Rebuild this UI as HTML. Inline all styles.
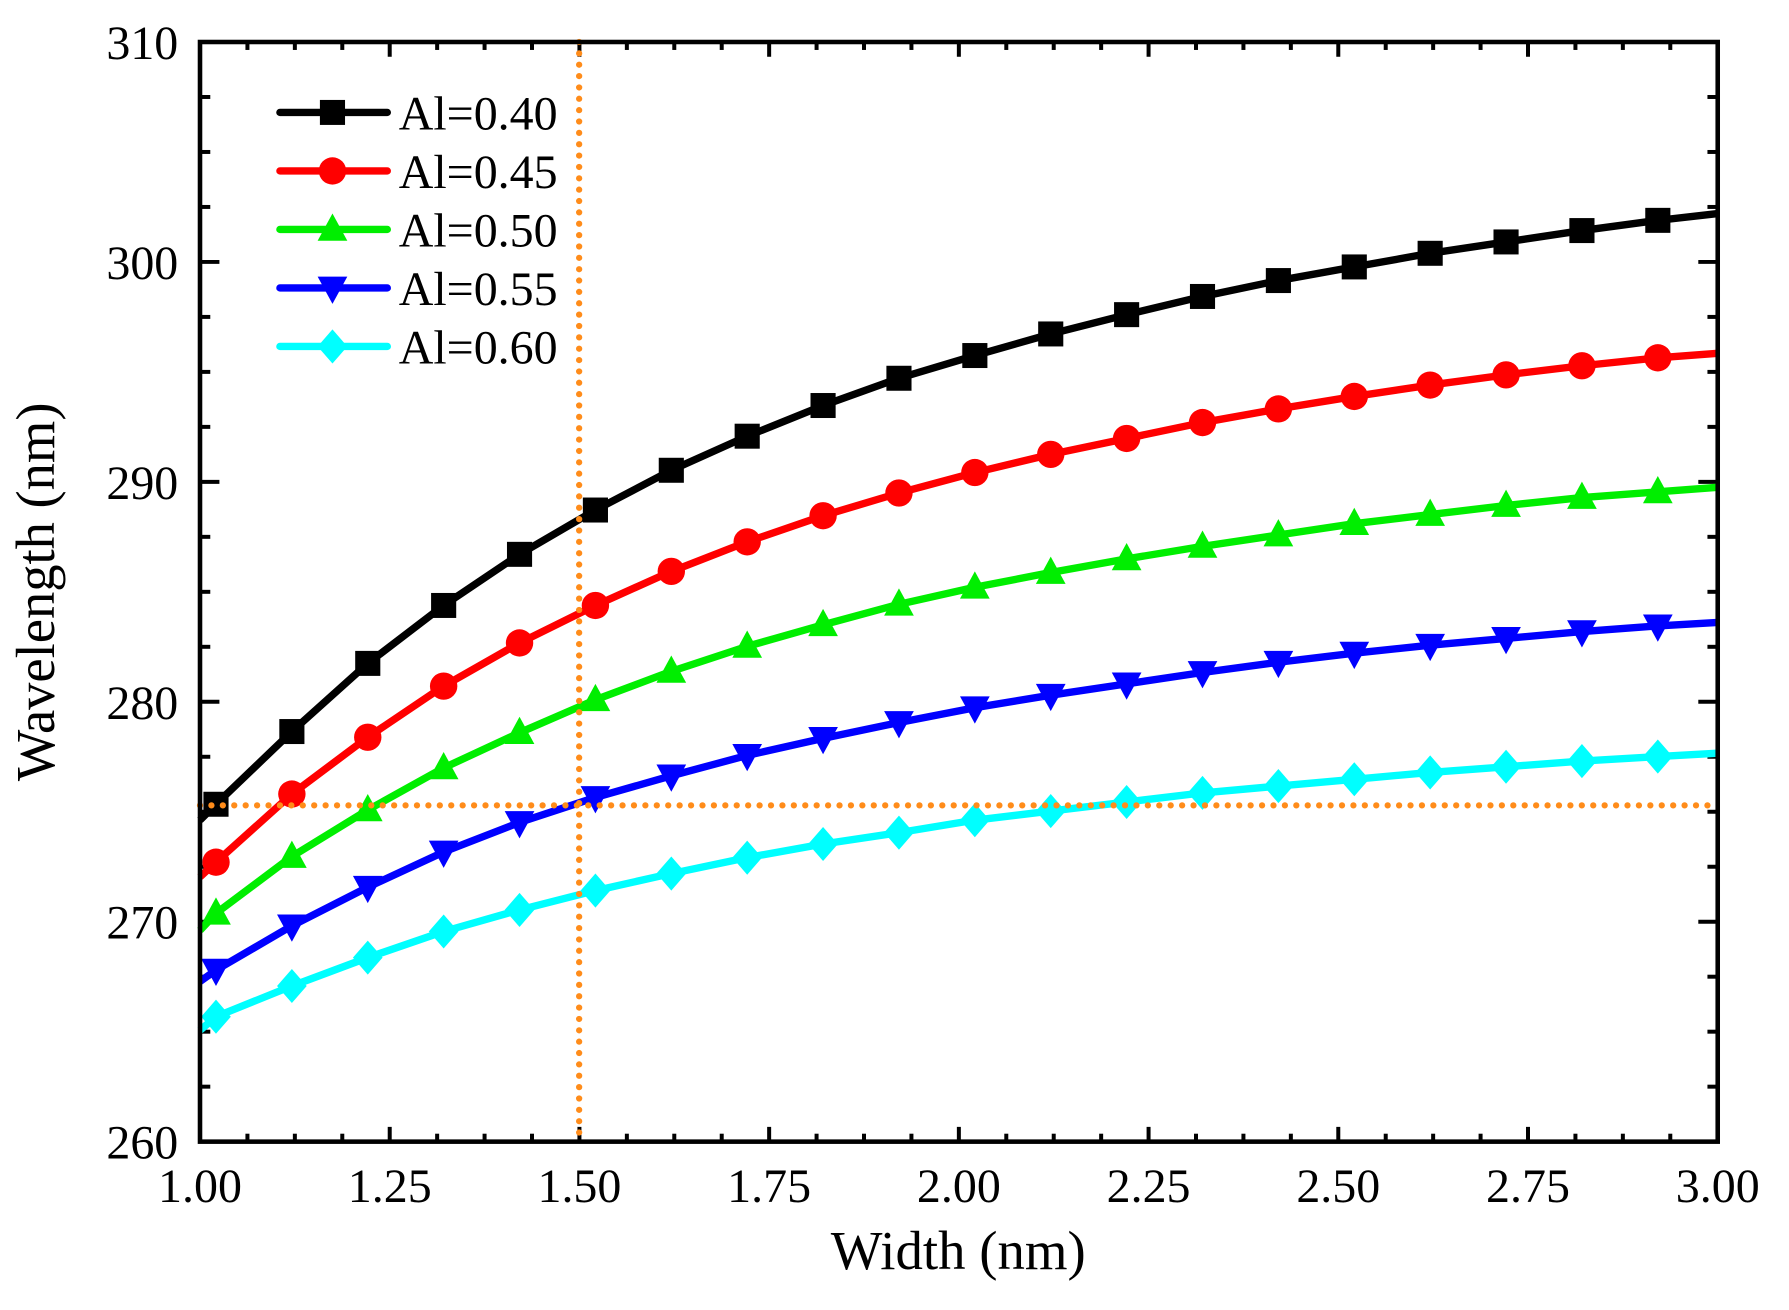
<!DOCTYPE html>
<html><head><meta charset="utf-8"><style>
html,body{margin:0;padding:0;background:#fff;}
svg{display:block;font-family:"Liberation Serif",serif;}
</style></head><body>
<svg width="1789" height="1310" viewBox="0 0 1789 1310" xmlns="http://www.w3.org/2000/svg">
<g transform="translate(200,42) scale(1.142,1.136) translate(-176,-35)">
<g id="ticks" stroke="#000" stroke-width="3.5" fill="none">
</g>
<g id="series"></g>
<line x1="508" y1="35" x2="508" y2="1003" stroke="#ff8c1a" stroke-width="5.5" stroke-dasharray="0 10" stroke-linecap="round"/>
<line x1="176" y1="707" x2="1505" y2="707" stroke="#ff8c1a" stroke-width="5.5" stroke-dasharray="0 10" stroke-linecap="round"/>
<rect x="176" y="35" width="1329" height="968" fill="none" stroke="#000" stroke-width="4"/>
<g id="legend"></g>
<g font-size="42" fill="#000" text-anchor="end" id="ylab"></g>
<g font-size="42" fill="#000" text-anchor="middle" id="xlab"></g>
<text x="840" y="1115" font-size="48" text-anchor="middle">Width (nm)</text>
<text transform="translate(48,519) rotate(-90)" font-size="48" text-anchor="middle">Wavelength (nm)</text>
</g>
</svg>
<script>
var NS="http://www.w3.org/2000/svg";
function el(p,t,a,txt){var e=document.createElementNS(NS,t);for(var k in a)e.setAttribute(k,a[k]);if(txt!==undefined)e.textContent=txt;document.getElementById(p).appendChild(e);return e;}
function X(v){return 176+(v-1)*664.5;}
function Y(v){return 35+(310-v)*19.36;}
for(var i=0;i<=32;i++){var v=1+i*0.0625,x=X(v),maj=(i%4==0),L=maj?13:7;
 if(i>0&&i<32){el('ticks','line',{x1:x,y1:1003,x2:x,y2:1003-L});el('ticks','line',{x1:x,y1:35,x2:x,y2:35+L});}
 if(maj)el('xlab','text',{x:x,y:1056},v.toFixed(2));}
for(var i=0;i<=20;i++){var v=260+i*2.5,y=Y(v),maj=(i%4==0),L=maj?17:9;
 if(i>0&&i<20){el('ticks','line',{x1:176,y1:y,x2:176+L,y2:y});el('ticks','line',{x1:1505,y1:y,x2:1505-L,y2:y});}
 if(maj)el('ylab','text',{x:157,y:y+15},String(v));}
var S=[
{c:"#000",m:"sq",s:720,e:186,p:[706,642,582,531,486,447,412,382,355,331,311,292,275,259,245,233,221,211,201,192]},
{c:"#ff0000",m:"ci",s:770,e:309,p:[757,697,647,602,564,531,501,475,452,432,414,398,384,370,358,347,337,328,320,313]},
{c:"#00ee00",m:"tu",s:817,e:427,p:[802,752,711,674,643,614,589,567,548,530,515,502,490,479,469,459,451,443,436,431]},
{c:"#0000ff",m:"td",s:862,e:546,p:[852,813,779,748,722,700,681,663,648,634,621,610,600,590,581,573,566,560,554,549]},
{c:"#00ffff",m:"di",s:905,e:661,p:[893,866,841,818,799,782,767,753,741,731,720,712,704,696,690,684,678,673,668,664]}];
function marker(g,m,x,y,c){
 if(m=="sq")el(g,'rect',{x:x-11,y:y-11,width:22,height:22,fill:c});
 else if(m=="ci")el(g,'circle',{cx:x,cy:y,r:12,fill:c});
 else if(m=="tu")el(g,'polygon',{points:(x-13)+","+(y+10)+" "+(x+13)+","+(y+10)+" "+x+","+(y-14),fill:c});
 else if(m=="td")el(g,'polygon',{points:(x-13)+","+(y-10)+" "+(x+13)+","+(y-10)+" "+x+","+(y+14),fill:c});
 else el(g,'polygon',{points:x+","+(y-15)+" "+(x+13)+","+y+" "+x+","+(y+15)+" "+(x-13)+","+y,fill:c});}
S.forEach(function(s){var pts=[[176,s.s]];s.p.forEach(function(y,i){pts.push([190+i*66.45,y]);});pts.push([1505,s.e]);
 el('series','polyline',{points:pts.map(function(p){return p.join(',')}).join(' '),fill:'none',stroke:s.c,'stroke-width':6.5,'stroke-linejoin':'round'});
 s.p.forEach(function(y,i){marker('series',s.m,190+i*66.45,y,s.c);});});
var names=["Al=0.40","Al=0.45","Al=0.50","Al=0.55","Al=0.60"];
S.forEach(function(s,i){var y=97+i*51.5;
 el('legend','line',{x1:246,y1:y,x2:340,y2:y,stroke:s.c,'stroke-width':6.5,'stroke-linecap':'round'});
 marker('legend',s.m,292,y,s.c);
 el('legend','text',{x:350,y:y+15,'font-size':42,fill:'#000'},names[i]);});
</script>
</body></html>
